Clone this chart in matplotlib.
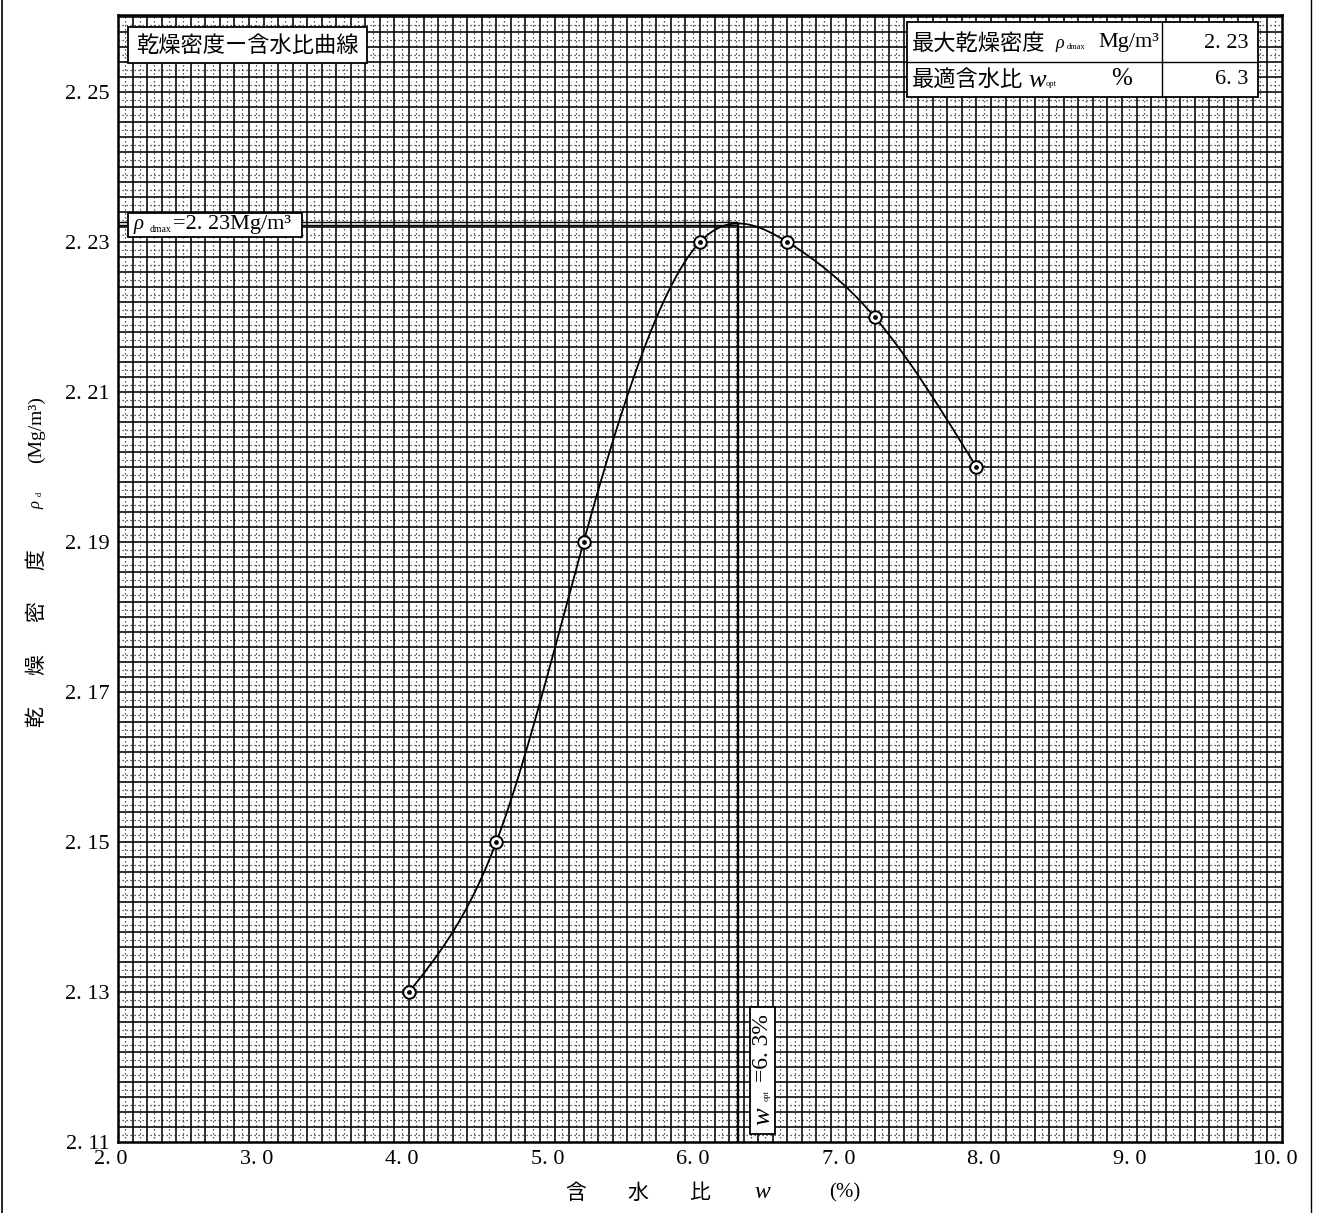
import numpy as np
import matplotlib
matplotlib.use("Agg")
import matplotlib.pyplot as plt
from matplotlib.patches import Rectangle
from matplotlib.lines import Line2D
from matplotlib.transforms import ScaledTranslation

# ---------------- data ----------------
water_content = [4.0, 4.6, 5.2, 6.0, 6.6, 7.2, 7.9]          # w (%)
dry_density = [2.13, 2.15, 2.19, 2.23, 2.23, 2.22, 2.20]      # rho_d (Mg/m3)
x_ticks = [2.0, 3.0, 4.0, 5.0, 6.0, 7.0, 8.0, 9.0, 10.0]
y_ticks = [2.11, 2.13, 2.15, 2.17, 2.19, 2.21, 2.23, 2.25]
rho_dmax_text = "2. 23"
w_opt_text = "6. 3"
title_text = "乾燥密度ー含水比曲線"

W, H = 1322, 1213
CJK = ["Noto Sans CJK JP", "DejaVu Sans"]
SERIF = ["Liberation Serif", "DejaVu Serif"]


def natural_spline(x, y, xs):
    x = np.asarray(x, float)
    y = np.asarray(y, float)
    n = len(x)
    h = np.diff(x)
    A = np.zeros((n, n))
    b = np.zeros(n)
    A[0, 0] = 1
    A[-1, -1] = 1
    for i in range(1, n - 1):
        A[i, i - 1] = h[i - 1]
        A[i, i] = 2 * (h[i - 1] + h[i])
        A[i, i + 1] = h[i]
        b[i] = 3 * ((y[i + 1] - y[i]) / h[i] - (y[i] - y[i - 1]) / h[i - 1])
    c = np.linalg.solve(A, b)
    out = np.empty_like(xs)
    for k, xv in enumerate(xs):
        i = min(max(np.searchsorted(x, xv) - 1, 0), n - 2)
        t = xv - x[i]
        bi = (y[i + 1] - y[i]) / h[i] - h[i] * (2 * c[i] + c[i + 1]) / 3
        di = (c[i + 1] - c[i]) / (3 * h[i])
        out[k] = y[i] + bi * t + c[i] * t ** 2 + di * t ** 3
    return out


def fx(px):
    return px / W


def fy(py):
    return 1 - py / H


fig = plt.figure(figsize=(W / 100, H / 100), dpi=100)
fig.patch.set_facecolor("white")
ax = fig.add_axes([fx(118), fy(1142), (1282 - 118) / W, (1142 - 15) / H])
y0, y1 = 2.11, 2.11 + 1127 / 7500
ax.set_xlim(2.0, 10.0)
ax.set_ylim(y0, y1)

# ---------------- graph-paper grid ----------------
ax.vlines(np.arange(2.1, 9.99, 0.1), y0, y1, color="black", lw=1.15, zorder=0)
ax.vlines(np.arange(2.05, 10.0, 0.1), y0, y1, color="0.15", lw=0.9,
          linestyles=(0, (1, 2.2)), zorder=0)
ax.hlines(np.arange(2.112, y1, 0.002), 2.0, 10.0, color="black", lw=1.15, zorder=0)
ax.hlines(np.arange(2.111, y1, 0.002), 2.0, 10.0, color="0.15", lw=0.9,
          linestyles=(0, (1, 2.2)), zorder=0)
for s in ax.spines.values():
    s.set_linewidth(1.8)
    s.set_color("black")

# ---------------- ticks ----------------
ax.set_xticks(x_ticks)
ax.set_xticklabels([f"{v:.1f}".replace(".", ". ") for v in x_ticks],
                   fontfamily=SERIF, fontsize=16)
ax.set_yticks(y_ticks)
ax.set_yticklabels([f"{v:.2f}".replace(".", ". ") for v in y_ticks],
                   fontfamily=SERIF, fontsize=16)
ax.tick_params(length=0)
ax.tick_params(axis="x", pad=6)
ax.tick_params(axis="y", pad=6)
for lab in ax.get_xticklabels():
    lab.set_transform(lab.get_transform() + ScaledTranslation(-0.07, 0, fig.dpi_scale_trans))

# ---------------- curve ----------------
xs = np.linspace(water_content[0], water_content[-1], 600)
ys = natural_spline(water_content, dry_density, xs)
ax.plot(xs, ys, color="black", lw=1.3, zorder=3)
ax.plot(water_content, dry_density, "o", ms=9, mfc="white", mec="black",
        mew=1.4, zorder=4)
ax.plot(water_content, dry_density, "o", ms=2.4, color="black", zorder=5)

ipk = int(np.argmax(ys))
peak_x, peak_y = xs[ipk], ys[ipk]

# optimum lines
ax.vlines(peak_x, y0, peak_y, color="black", lw=1.7, zorder=3)
ax.hlines([peak_y + 0.00016, peak_y - 0.00016], 2.0, peak_x, color="black",
          lw=1.0, zorder=3)

# rho_dmax label box
ax.add_patch(Rectangle((fx(128), fy(237)), (302 - 128) / W, (237 - 213) / H,
                       transform=fig.transFigure, facecolor="white",
                       edgecolor="black", lw=1.3, zorder=6))
fig.text(fx(134), fy(225), "ρ", fontsize=15, family=SERIF,
         va="center", ha="left", zorder=7, style="italic")
fig.text(fx(150), fy(229), "dmax", fontsize=7, family=SERIF,
         va="center", ha="left", zorder=7)
fig.text(fx(173), fy(225), "=2. 23Mg/m³", fontsize=16, family=SERIF,
         va="center", ha="left", zorder=7)

# w_opt label box (rotated)
ax.add_patch(Rectangle((fx(750), fy(1134)), (775 - 750) / W, (1134 - 1007) / H,
                       transform=fig.transFigure, facecolor="white",
                       edgecolor="black", lw=1.3, zorder=6))
fig.text(fx(763), fy(1116), "w", fontsize=19, family=SERIF, style="italic",
         rotation=90, va="center", ha="center", zorder=7)
fig.text(fx(767), fy(1096), "opt", fontsize=6, family=SERIF,
         rotation=90, va="center", ha="center", zorder=7)
fig.text(fx(763), fy(1048), "=6. 3%", fontsize=17, family=SERIF,
         rotation=90, va="center", ha="center", zorder=7)

# title box
ax.add_patch(Rectangle((fx(128), fy(63)), (367 - 128) / W, (63 - 27) / H,
                       transform=fig.transFigure, facecolor="white",
                       edgecolor="black", lw=1.3, zorder=6))
fig.text(fx(247), fy(45), title_text, fontsize=16, family=CJK,
         va="center", ha="center", zorder=7)

# result table
tx0, tx1, tc, ty0, ty1, tr = 907, 1258, 1162, 22, 97, 62
ax.add_patch(Rectangle((fx(tx0), fy(ty1)), (tx1 - tx0) / W, (ty1 - ty0) / H,
                       transform=fig.transFigure, facecolor="white",
                       edgecolor="black", lw=1.3, zorder=6))
fig.add_artist(Line2D([fx(tx0), fx(tx1)], [fy(tr), fy(tr)], color="black", lw=1.0, zorder=7))
fig.add_artist(Line2D([fx(tc), fx(tc)], [fy(ty0), fy(ty1)], color="black", lw=1.0, zorder=7))
fig.text(fx(912), fy(43), "最大乾燥密度", fontsize=16, family=CJK, va="center", ha="left", zorder=8)
fig.text(fx(1055), fy(44), "ρ", fontsize=13, family=SERIF, style="italic", va="center", ha="left", zorder=8)
fig.text(fx(1067), fy(47), "dmax", fontsize=6, family=SERIF, va="center", ha="left", zorder=8)
fig.text(fx(1098), fy(43), "Mg/m³", fontsize=16, family=SERIF, va="center", ha="left", zorder=8)
fig.text(fx(1248), fy(43), rho_dmax_text, fontsize=16, family=SERIF, va="center", ha="right", zorder=8)
fig.text(fx(912), fy(80), "最適含水比", fontsize=16, family=CJK, va="center", ha="left", zorder=8)
fig.text(fx(1028), fy(81), "w", fontsize=19, family=SERIF, style="italic", va="center", ha="left", zorder=8)
fig.text(fx(1046), fy(84), "opt", fontsize=6, family=SERIF, va="center", ha="left", zorder=8)
fig.text(fx(1122), fy(79), "%", fontsize=18, family=SERIF, va="center", ha="center", zorder=8)
fig.text(fx(1248), fy(80), w_opt_text, fontsize=16, family=SERIF, va="center", ha="right", zorder=8)

# axis labels
for txt, ypx in [("乾", 717), ("燥", 665), ("密", 612), ("度", 560)]:
    fig.text(fx(36), fy(ypx), txt, fontsize=15, family=CJK, rotation=90,
             va="center", ha="center")
fig.text(fx(36), fy(505), "ρ", fontsize=12, family=SERIF, style="italic", rotation=90,
         va="center", ha="center")
fig.text(fx(40), fy(494), "d", fontsize=6, family=SERIF, rotation=90,
         va="center", ha="center")
fig.text(fx(36), fy(430), "(Mg/m³)", fontsize=14, family=SERIF, rotation=90,
         va="center", ha="center")

for txt, xpx, fam, sty in [("含", 576, CJK, "normal"), ("水", 638, CJK, "normal"),
                           ("比", 700, CJK, "normal"), ("w", 762, SERIF, "italic"),
                           ("(%)", 845, SERIF, "normal")]:
    fig.text(fx(xpx), fy(1193), txt, fontsize=17 if sty == "italic" else 15,
             family=fam, style=sty, va="center", ha="center")

# page border lines
fig.add_artist(Line2D([fx(2), fx(2)], [0, 1], color="black", lw=1.2))
fig.add_artist(Line2D([fx(1311), fx(1311)], [0, 1], color="black", lw=1.0))

fig.savefig("out.png", dpi=100, facecolor="white")
